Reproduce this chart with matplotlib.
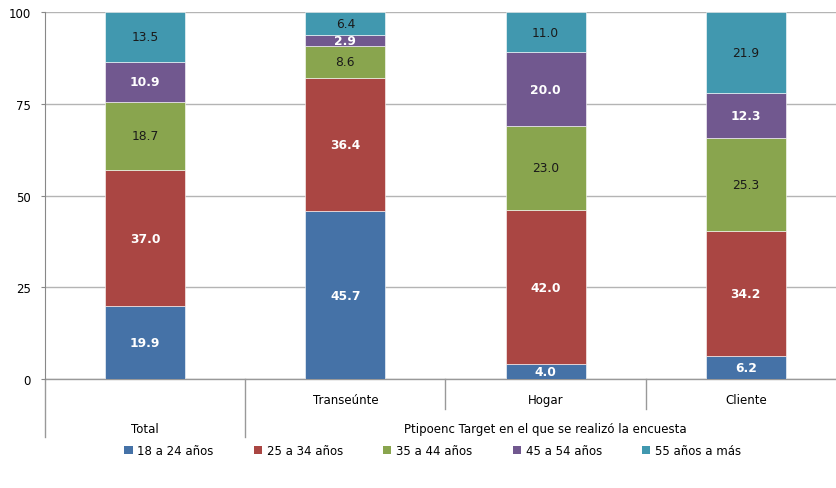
import matplotlib.pyplot as plt
from matplotlib.patches import Patch
import numpy as np

plt.rcParams["font.family"] = ["DejaVu Sans"]

categories = ["Total", "Transeúnte", "Hogar", "Cliente"]
series = ["18 a 24 años", "25 a 34 años", "35 a 44 años", "45 a 54 años", "55 años a más"]
v_18_24 = [19.9, 45.7, 4.0, 6.2]
v_25_34 = [37.0, 36.4, 42.0, 34.2]
v_35_44 = [18.7, 8.6, 23.0, 25.3]
v_45_54 = [10.9, 2.9, 20.0, 12.3]
v_55_mas = [13.5, 6.4, 11.0, 21.9]
group_label = "Ptipoenc Target en el que se realizó la encuesta"

colors = ["#4572A7", "#AA4643", "#89A54E", "#71588F", "#4198AF"]
text_colors = ["white", "white", "#1a1a1a", "white", "#1a1a1a"]
values = [v_18_24, v_25_34, v_35_44, v_45_54, v_55_mas]

fig = plt.figure(figsize=(8.37, 4.89), dpi=100)
ax = fig.add_axes([45 / 837, 109 / 489, 801 / 837, 367 / 489])

x = np.arange(len(categories))
bottom = np.zeros(len(categories))
for vals, col, tcol in zip(values, colors, text_colors):
    vals = np.array(vals)
    ax.bar(x, vals, width=0.4, bottom=bottom, color=col, edgecolor="white",
           linewidth=0.4, zorder=3)
    for xi, b, v in zip(x, bottom, vals):
        ax.text(xi, b + v / 2, f"{v:.1f}", ha="center", va="center",
                fontsize=8.8, color=tcol, zorder=4,
                fontweight="bold" if tcol == "white" else "normal")
    bottom += vals

ax.set_xlim(-0.5, 3.5)
ax.set_ylim(0, 100)
ax.set_yticks([0, 25, 50, 75, 100])
ax.tick_params(axis="y", labelsize=8.5, length=3, color="#888888", pad=7)
ax.tick_params(axis="x", bottom=False, labelbottom=False)
ax.yaxis.grid(True, color="#b4b4b4", linewidth=1, zorder=0)
for s in ["top", "right", "bottom"]:
    ax.spines[s].set_visible(False)
ax.spines["left"].set_color("#888888")

# two-level category axis below the bars
tr = ax.get_xaxis_transform()
ax.plot([-0.5, 3.6], [0, 0], color="#999999", lw=1, transform=tr, clip_on=False)
for xs, ybot in [(-0.5, -0.158), (0.5, -0.158), (1.5, -0.082), (2.5, -0.082)]:
    ax.plot([xs, xs], [0, ybot], color="#999999", lw=1, transform=tr, clip_on=False)
for xi in [1, 2, 3]:
    ax.text(xi, -0.055, categories[xi], ha="center", va="center", fontsize=8.5,
            transform=tr)
ax.text(0, -0.134, categories[0], ha="center", va="center", fontsize=8.5, transform=tr)
ax.text(2, -0.134, group_label, ha="center", va="center", fontsize=8.5, transform=tr)

handles = [Patch(facecolor=c, label=s) for c, s in zip(colors, series)]
fig.legend(handles=handles, loc="center", bbox_to_anchor=(0.517, 0.077), ncol=5,
           frameon=False, fontsize=8.5, handlelength=0.7, handleheight=0.7,
           handletextpad=0.4, columnspacing=3.4)

fig.savefig("out.png", dpi=100)
